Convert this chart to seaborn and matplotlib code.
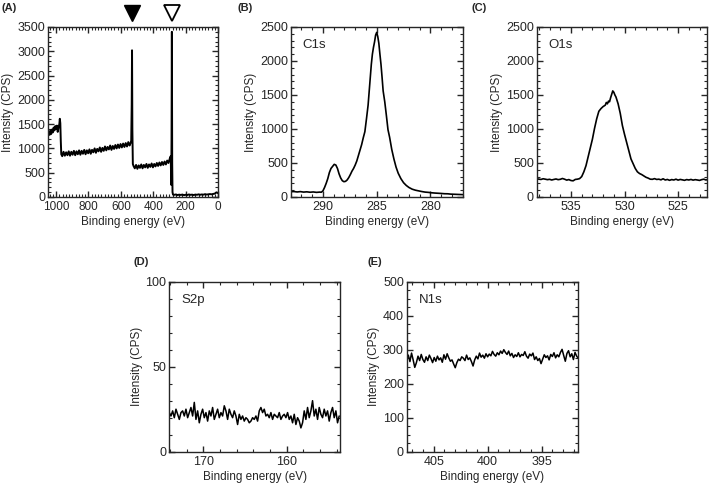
import numpy as np
import pandas as pd
import matplotlib
matplotlib.use('Agg')
import matplotlib.pyplot as plt
from matplotlib.ticker import MultipleLocator
import seaborn as sns

# survey spectrum (A)
survey_ev = [1050, 1045, 1040, 1035, 1030, 1025, 1020, 1015, 1010, 1005, 1000, 995, 990, 985, 980,
             977, 974, 971, 968,
             962, 954, 946, 938, 930, 922, 914, 906, 898, 890,
             882, 874, 866, 858, 850, 842, 834, 826, 818, 810,
             802, 794, 786, 778, 770, 762, 754, 746, 738, 730,
             722, 714, 706, 698, 690, 682, 674, 666, 658, 650,
             642, 634, 626, 618, 610, 602, 594, 586, 578, 570,
             562, 554, 546,
             540, 536, 533, 531, 529, 526, 522,
             514, 506, 498, 490, 482, 474, 466, 458, 450, 442,
             434, 426, 418, 410, 402, 394, 386, 378, 370, 362,
             354, 346, 338, 330, 322, 314, 306, 298,
             292, 289, 287, 285, 283, 281, 278,
             270, 260, 250, 240, 230, 220, 210, 200, 190, 180,
             170, 160, 150, 140, 130, 120, 110, 100, 90, 80,
             70, 60, 50, 40, 30, 20, 10, 0]
survey_cps = [1260, 1340, 1280, 1370, 1300, 1390, 1330, 1430, 1370, 1460, 1400, 1470, 1340, 1430, 1500,
              1610, 1520, 1150, 880,
              840, 930, 850, 920, 860, 940, 850, 930, 870, 950,
              860, 940, 880, 960, 870, 950, 890, 970, 880, 960,
              900, 980, 890, 970, 920, 1000, 910, 990, 940, 1020,
              930, 1010, 950, 1040, 960, 1030, 980, 1060, 970, 1050,
              990, 1070, 1000, 1080, 1010, 1090, 1020, 1100, 1030, 1110,
              1040, 1130, 1060,
              1110, 1160, 1900, 3020, 1400, 680, 640,
              590, 660, 580, 650, 600, 670, 590, 660, 610, 680,
              600, 670, 620, 690, 610, 680, 630, 700, 640, 710,
              650, 720, 660, 730, 670, 750, 700, 790,
              840, 250, 1200, 3400, 700, 100, 50,
              45, 52, 40, 48, 42, 50, 38, 46, 40, 52,
              44, 48, 40, 50, 45, 54, 46, 52, 48, 58,
              50, 56, 60, 55, 62, 70, 95, 80]

# C1s (B)
c1s_ev = [293.0, 292.7, 292.4, 292.1, 291.8, 291.5, 291.2, 290.9, 290.6, 290.3, 290.15, 290.0,
          289.85, 289.7, 289.55, 289.4, 289.25, 289.1, 288.95, 288.8, 288.65, 288.5, 288.35,
          288.2, 288.05, 287.9, 287.75, 287.6, 287.45, 287.3, 287.15, 287.0, 286.85, 286.7,
          286.55, 286.4, 286.25, 286.1, 285.95, 285.8, 285.65, 285.5, 285.4, 285.3, 285.2,
          285.1, 285.0, 284.9, 284.8, 284.7, 284.6, 284.5, 284.4, 284.25, 284.1, 283.95,
          283.8, 283.6, 283.4, 283.2, 283.0, 282.75, 282.5, 282.25, 282.0, 281.7, 281.4,
          281.1, 280.8, 280.5, 280.2, 279.9, 279.6, 279.3, 279.0, 278.7, 278.4, 278.1,
          277.8, 277.5, 277.2, 277.0]
c1s_cps = [78, 80, 74, 79, 72, 76, 70, 74, 68, 72, 70, 90,
           140, 200, 270, 360, 420, 450, 480, 470, 420, 340, 280,
           240, 225, 230, 250, 285, 330, 380, 420, 470, 530, 610,
           690, 770, 870, 960, 1150, 1350, 1650, 1950, 2100, 2200, 2280,
           2380, 2420, 2360, 2260, 2100, 1950, 1760, 1560, 1400, 1200, 990,
           880, 700, 560, 440, 350, 270, 210, 170, 140, 115, 100,
           90, 80, 72, 68, 62, 58, 55, 52, 48, 47, 42,
           40, 38, 36, 35]

# O1s (C)
o1s_ev = [538.2, 538.0, 537.8, 537.6, 537.4, 537.2, 537.0, 536.8, 536.6, 536.4, 536.2, 536.0,
          535.8, 535.6, 535.4, 535.2, 535.0, 534.8, 534.6, 534.4, 534.2, 534.0, 533.8, 533.6,
          533.4, 533.2, 533.0, 532.8, 532.6, 532.4, 532.2, 532.0, 531.8, 531.7, 531.6, 531.5,
          531.4, 531.3, 531.2, 531.1, 531.0, 530.9, 530.8, 530.7, 530.6, 530.5, 530.4, 530.2,
          530.0, 529.8, 529.6, 529.4, 529.2, 529.0, 528.8, 528.6, 528.4, 528.2, 528.0, 527.8,
          527.6, 527.4, 527.2, 527.0, 526.8, 526.6, 526.4, 526.2, 526.0, 525.8, 525.6, 525.4,
          525.2, 525.0, 524.8, 524.6, 524.4, 524.2, 524.0, 523.8, 523.6, 523.4, 523.2, 523.0,
          522.8, 522.6, 522.4, 522.3]
o1s_cps = [270, 262, 258, 268, 262, 255, 260, 250, 258, 265, 255, 260,
           272, 262, 248, 256, 242, 238, 258, 262, 270, 300, 370, 460,
           590, 720, 850, 1010, 1150, 1260, 1300, 1330, 1350, 1390, 1370, 1410,
           1400, 1460, 1510, 1560, 1540, 1500, 1470, 1420, 1370, 1300, 1230, 1050,
           920, 800, 680, 560, 490, 420, 370, 345, 330, 310, 290, 278,
           262, 260, 270, 258, 262, 252, 268, 250, 258, 245, 256, 250,
           262, 248, 258, 252, 245, 256, 250, 258, 248, 255, 250, 244,
           255, 262, 250, 255]

# S2p (D), scan from 174.1 eV down in 0.2 eV steps
s2p_start, s2p_step = 174.1, -0.2
s2p_cps = [23, 21, 24, 20, 25, 22, 19, 23, 24, 21,
           25, 20, 23, 26, 21, 29, 19, 24, 17, 22,
           25, 20, 23, 18, 24, 21, 26, 19, 22, 25,
           20, 23, 21, 27, 24, 19, 25, 22, 20, 24,
           21, 16, 22, 19, 21, 18, 20, 19, 17, 18,
           20, 19, 21, 18, 24, 26, 23, 25, 21, 22,
           20, 23, 19, 22, 21, 20, 23, 19, 21, 22,
           20, 23, 19, 21, 17, 22, 16, 20, 18, 14,
           17, 24, 19, 26, 20, 24, 30, 21, 25, 19,
           26, 22, 20, 25, 21, 24, 18, 23, 26, 20,
           24, 17, 21]

# N1s (E), scan from 407.5 eV down in 0.15 eV steps
n1s_start, n1s_step = 407.5, -0.15
n1s_cps = [272, 284, 265, 290, 270, 248, 262, 281, 268, 286,
           271, 263, 279, 268, 284, 274, 262, 277, 266, 281,
           270, 276, 263, 285, 272, 288, 276, 266, 270, 258,
           247, 262, 272, 268, 279, 275, 268, 284, 271, 276,
           265, 252, 270, 281, 273, 290, 278, 284, 275, 288,
           279, 287, 282, 295, 286, 281, 291, 285, 296, 289,
           300, 292, 286, 296, 282, 289, 277, 285, 280, 291,
           279, 286, 283, 294, 281, 275, 287, 282, 290, 271,
           279, 268, 274, 259, 272, 285, 277, 282, 270, 286,
           280, 291, 276, 285, 279, 292, 301, 283, 266, 289,
           297, 279, 288, 271, 292, 281, 275]

s2p_ev = s2p_start + s2p_step * np.arange(len(s2p_cps))
n1s_ev = n1s_start + n1s_step * np.arange(len(n1s_cps))

sns.set_style('ticks')
plt.rcParams['font.family'] = ['Liberation Sans', 'DejaVu Sans']
plt.rcParams['xtick.direction'] = 'in'
plt.rcParams['ytick.direction'] = 'in'
plt.rcParams['axes.linewidth'] = 1.0

fig = plt.figure(figsize=(7.09, 4.87), dpi=100)

panels = [
    # x, y, position, xlim, ylim, x major/minor, y major/minor, letter, name, line width
    (survey_ev, survey_cps, [0.0677, 0.5955, 0.2398, 0.3491], (1050, 0), (0, 3500), (200, 20), (500, 100), '(A)', None, 1.4),
    (c1s_ev, c1s_cps, [0.4100, 0.5955, 0.2426, 0.3491], (293, 277), (0, 2500), (5, 1), (500, 100), '(B)', 'C1s', 1.2),
    (o1s_ev, o1s_cps, [0.7570, 0.5955, 0.2402, 0.3491], (538.2, 522.3), (0, 2500), (5, 1), (500, 100), '(C)', 'O1s', 1.2),
    (s2p_ev, s2p_cps, [0.2388, 0.0725, 0.2408, 0.3491], (174.1, 153.6), (0, 100), (10, 2), (50, 10), '(D)', 'S2p', 1.1),
    (n1s_ev, n1s_cps, [0.5736, 0.0725, 0.2420, 0.3491], (407.5, 391.6), (0, 500), (5, 1), (100, 25), '(E)', 'N1s', 1.1),
]
letter_pos = {'(A)': (2, 3), '(B)': (237, 3), '(C)': (472, 3), '(D)': (133, 257), '(E)': (367, 257)}

axes = []
for ev, cps, pos, xl, yl, xt, yt, letter, name, lw in panels:
    ax = fig.add_axes(pos)
    df = pd.DataFrame({'ev': ev, 'cps': cps})
    sns.lineplot(data=df, x='ev', y='cps', ax=ax, color='black', lw=lw, estimator=None)
    ax.set_xlim(*xl)
    ax.set_ylim(*yl)
    ax.xaxis.set_major_locator(MultipleLocator(xt[0]))
    ax.xaxis.set_minor_locator(MultipleLocator(xt[1]))
    ax.yaxis.set_major_locator(MultipleLocator(yt[0]))
    ax.yaxis.set_minor_locator(MultipleLocator(yt[1]))
    ax.tick_params(which='both', top=True, right=True, labelsize=9)
    ax.tick_params(axis='y', pad=2)
    ax.tick_params(axis='x', pad=3)
    ax.tick_params(which='major', length=4, width=1)
    ax.tick_params(which='minor', length=2, width=0.8)
    ax.set_xlabel('Binding energy (eV)', fontsize=8.5, labelpad=2)
    ax.set_ylabel('Intensity (CPS)', fontsize=8.5, labelpad=2)
    if name:
        ax.text(0.07, 0.93, name, transform=ax.transAxes, fontsize=9.5, va='top', ha='left')
    lx, ly = letter_pos[letter]
    fig.text(lx / 709, 1 - ly / 487, letter, fontsize=8, fontweight='bold', va='top', ha='left')
    axes.append(ax)

# the survey's x tick labels sit close to the y "0"; keep them a touch smaller
axes[0].tick_params(axis='x', labelsize=8.5)

# peak markers above the survey
ax_a = axes[0]
ax_a.plot([531], [1.085], marker='v', ms=11, color='black', transform=ax_a.get_xaxis_transform(), clip_on=False)
ax_a.plot([285], [1.085], marker='v', ms=11, mfc='white', mec='black', mew=1.3,
          transform=ax_a.get_xaxis_transform(), clip_on=False)

fig.savefig('out.png', dpi=100)
